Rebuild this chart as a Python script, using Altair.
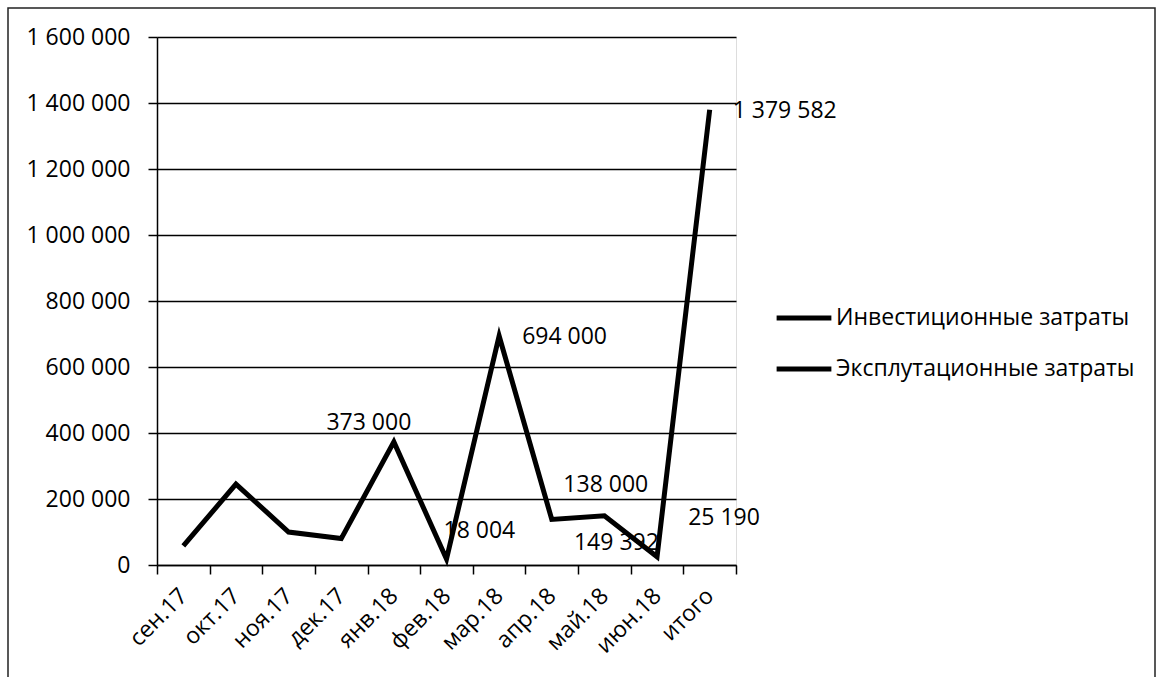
import altair as alt
import pandas as pd

# ---- data ----
months = ["сен.17", "окт.17", "ноя.17", "дек.17", "янв.18", "фев.18",
          "мар.18", "апр.18", "май.18", "июн.18", "итого"]
invest = [58000, 245000, 100000, 80000, 373000, 18004,
          694000, 138000, 149392, 25190, 1379582]
series_names = ["Инвестиционные затраты", "Эксплутационные затраты"]
y_ticks = [0, 200000, 400000, 600000, 800000, 1000000, 1200000, 1400000, 1600000]
labelled_months = ["янв.18", "фев.18", "мар.18", "апр.18", "май.18", "июн.18", "итого"]

# label placement style (align, dx, dy) per labelled point
label_style = {
    "янв.18": ("center", -25, -19),
    "фев.18": ("left", -3, -28),
    "мар.18": ("left", 23, 1),
    "апр.18": ("center", 54, -34),
    "май.18": ("center", 12, 27),
    "июн.18": ("center", 67, -39),
    "итого": ("left", 23, 1),
}

FONT = "Open Sans"
FS = 23

df = pd.DataFrame({"month": months, "value": invest, "series": series_names[0]})

fmt_expr = "replace(format(datum.value, ','), regexp(',', 'g'), ' ')"

x_enc = alt.X(
    "month:N", sort=months, bandPosition=0.5,
    scale=alt.Scale(type="band", paddingInner=0, paddingOuter=0),
    axis=alt.Axis(title=None, labelAngle=-45, labelAlign="right", labelBaseline="middle",
                  tickBand="extent", tickSize=9, tickColor="black", tickWidth=1.5,
                  domainColor="black", domainWidth=1.5, labelFont=FONT,
                  labelFontSize=FS, labelColor="black", labelPadding=18, grid=False),
)
y_enc = alt.Y(
    "value:Q", scale=alt.Scale(domain=[0, 1600000], nice=False),
    axis=alt.Axis(title=None, values=y_ticks, labelExpr=fmt_expr, tickSize=9,
                  tickColor="black", tickWidth=1.5, domainColor="black", domainWidth=1.5,
                  grid=True, gridColor="black", gridWidth=1.5, labelFont=FONT,
                  labelFontSize=FS, labelColor="black", labelPadding=18),
)

line = alt.Chart(df).mark_line(strokeWidth=5, strokeJoin="miter").encode(
    x=x_enc, y=y_enc,
    color=alt.Color(
        "series:N",
        scale=alt.Scale(domain=series_names, range=["black", "black"]),
        legend=alt.Legend(title=None, orient="none", legendX=617, legendY=251,
                          symbolType="stroke", symbolStrokeWidth=5, symbolSize=3000,
                          symbolStrokeColor="black", labelFont=FONT, labelFontSize=FS,
                          labelColor="black", labelOffset=2, rowPadding=9, labelLimit=400),
    ),
)

text_layers = []
for m in labelled_months:
    align, dx, dy = label_style[m]
    t = alt.Chart(df).transform_filter(alt.datum.month == m).transform_calculate(
        label=fmt_expr
    ).mark_text(align=align, baseline="middle", dx=dx, dy=dy, font=FONT,
                fontSize=FS, color="black").encode(
        x=alt.X("month:N", sort=months, bandPosition=0.5),
        y="value:Q", text="label:N",
    )
    text_layers.append(t)

frame = alt.Chart(pd.DataFrame({"a": [0]})).mark_rect(
    fillOpacity=0, stroke="#222", strokeWidth=1.5
).encode(x=alt.value(-149), x2=alt.value(998), y=alt.value(-29), y2=alt.value(720))

chart = alt.layer(frame, line, *text_layers).properties(
    width=579, height=528,
    autosize=alt.AutoSizeParams(type="none"),
    padding={"left": 157, "top": 37, "right": 424, "bottom": 112},
).configure_view(strokeWidth=0).configure(background="white")

chart.save("out.html", embed_options={"renderer": "svg", "actions": False})
